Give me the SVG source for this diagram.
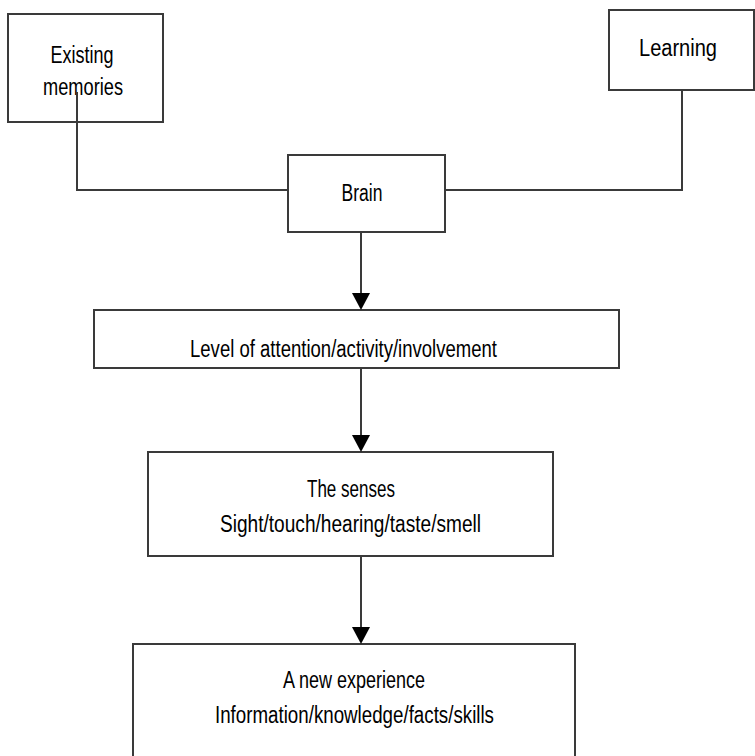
<svg xmlns="http://www.w3.org/2000/svg" width="755" height="756" viewBox="0 0 755 756">
<defs>
<style>
.box{fill:#fff;stroke:#3a3a3a;stroke-width:2}
.ln{fill:none;stroke:#3a3a3a;stroke-width:2}
.ah{fill:#000}
text{font-family:"Liberation Sans",Arial,sans-serif;font-size:23px;fill:#000;text-anchor:middle}
</style>
</defs>
<rect width="755" height="756" fill="#fff"/>
<g id="existing">
<rect class="box" x="8" y="14" width="155" height="108"/>
<text x="82" y="63" textLength="63" lengthAdjust="spacingAndGlyphs">Existing</text>
<text x="83" y="95" textLength="80" lengthAdjust="spacingAndGlyphs">memories</text>
</g>
<g id="learning">
<rect class="box" x="609" y="10" width="145" height="80"/>
<text x="678" y="56" textLength="78" lengthAdjust="spacingAndGlyphs">Learning</text>
</g>
<g id="brain">
<rect class="box" x="288" y="155" width="157" height="77"/>
<text x="362" y="201" textLength="41" lengthAdjust="spacingAndGlyphs">Brain</text>
</g>
<g id="level">
<rect class="box" x="94" y="310" width="525" height="58"/>
<text x="343.5" y="357" textLength="307" lengthAdjust="spacingAndGlyphs">Level of attention/activity/involvement</text>
</g>
<g id="senses">
<rect class="box" x="148" y="452" width="405" height="104"/>
<text x="351" y="497" textLength="88" lengthAdjust="spacingAndGlyphs">The senses</text>
<text x="350.5" y="532" textLength="261" lengthAdjust="spacingAndGlyphs">Sight/touch/hearing/taste/smell</text>
</g>
<g id="experience">
<rect class="box" x="133" y="644" width="442" height="130"/>
<text x="354" y="688" textLength="142" lengthAdjust="spacingAndGlyphs">A new experience</text>
<text x="354.5" y="723" textLength="279" lengthAdjust="spacingAndGlyphs">Information/knowledge/facts/skills</text>
</g>
<g id="connectors">
<polyline class="ln" points="77,92 77,190 288,190"/>
<polyline class="ln" points="682,90 682,190 445,190"/>
<line class="ln" x1="361" y1="232" x2="361" y2="296"/>
<polygon class="ah" points="352,293 370,293 361,310"/>
<line class="ln" x1="361" y1="368" x2="361" y2="438"/>
<polygon class="ah" points="352,435 370,435 361,452"/>
<line class="ln" x1="361" y1="556" x2="361" y2="630"/>
<polygon class="ah" points="352,627 370,627 361,644"/>
</g>
</svg>
